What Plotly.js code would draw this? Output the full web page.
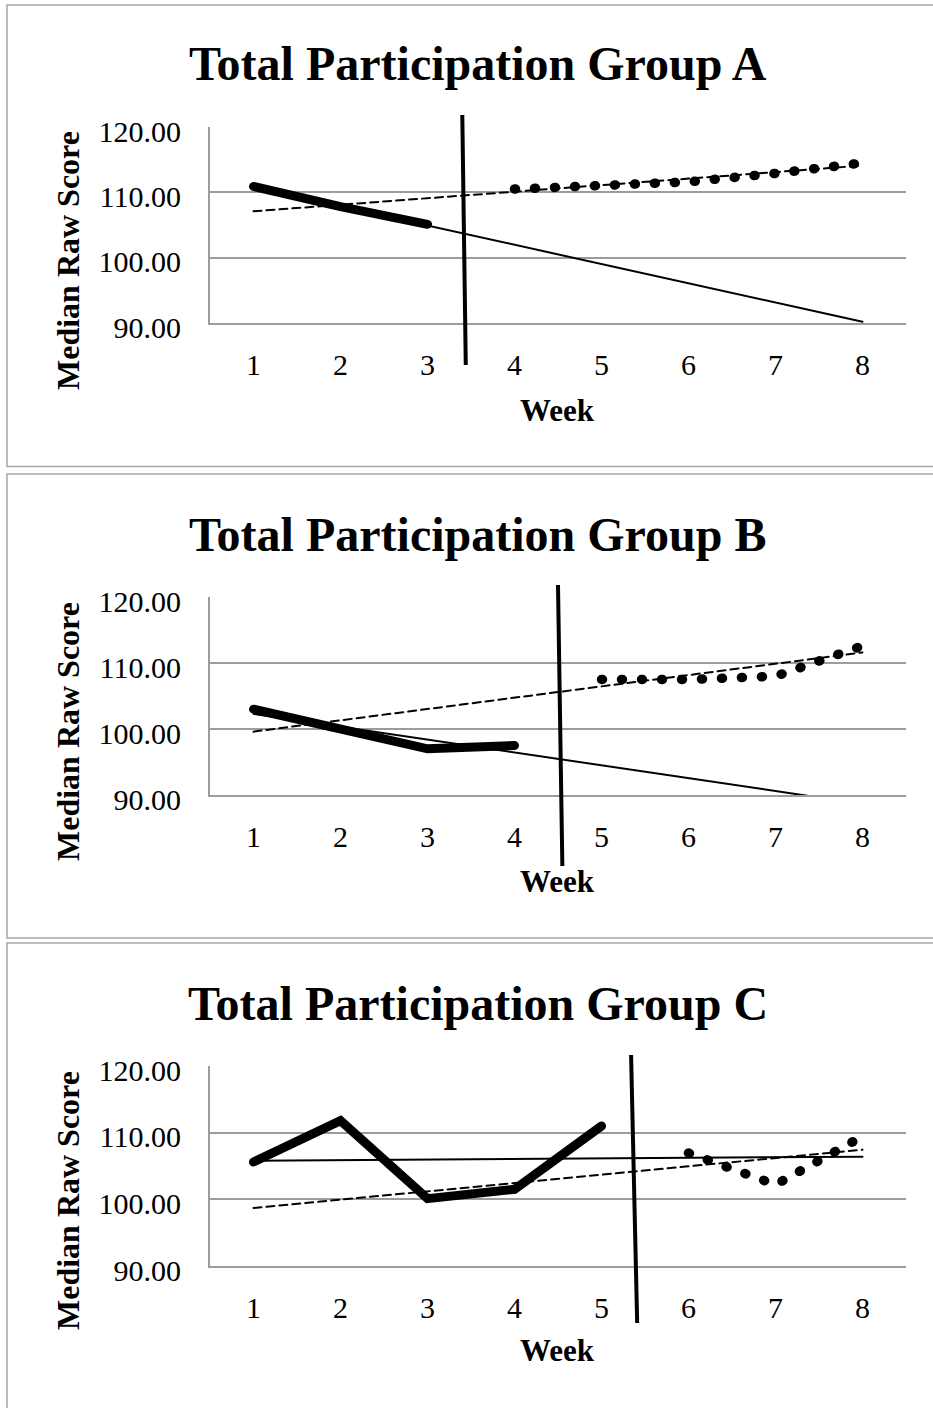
<!DOCTYPE html>
<html>
<head>
<meta charset="utf-8">
<script src="https://cdn.plot.ly/plotly-3.0.1.min.js"></script>
<style>
  html, body { margin: 0; padding: 0; background: #ffffff; }
  #chart { width: 933px; height: 1408px; }
</style>
</head>
<body>
<div id="chart"></div>
<script>
// ---------------- DATA ----------------
const weekTicks = [1, 2, 3, 4, 5, 6, 7, 8];
const scoreTicks = [90, 100, 110, 120];
const trendWeeks = [1, 8];

// Group A
const titleA = "Total Participation Group A";
const weeksA1 = [1, 2, 3];
const scoreA1 = [110.9, 107.8, 105.1];
const weeksA2 = [4, 5, 6, 7, 8];
const scoreA2 = [110.5, 111.0, 111.6, 112.9, 114.5];
const trendA1 = [110.8, 90.2];
const trendA2 = [107.1, 114.1];
const phaseA = [3.40, 3.44];

// Group B
const titleB = "Total Participation Group B";
const weeksB1 = [1, 2, 3, 4];
const scoreB1 = [103.0, 100.0, 97.0, 97.5];
const weeksB2 = [5, 6, 7, 8];
const scoreB2 = [107.5, 107.5, 108.0, 112.6];
const trendB1 = [102.3, 88.65];
const trendB2 = [99.6, 111.6];
const phaseB = [4.50, 4.55];

// Group C
const titleC = "Total Participation Group C";
const weeksC1 = [1, 2, 3, 4, 5];
const scoreC1 = [105.6, 111.8, 100.1, 101.5, 111.0];
const weeksC2 = [6, 7, 8];
const scoreC2 = [106.95, 102.2, 109.45];
const trendC1 = [105.8, 106.4];
const trendC2 = [98.7, 107.45];
const phaseC = [5.34, 5.41];

const xTitle = "Week";
const yTitle = "Median Raw Score";

// ---------------- LAYOUT HELPERS ----------------
const W = 933, H = 1408;
const FONT = "Liberation Serif, Times New Roman, serif";
const GRID = "#9c9c9c";
const px = x => x / W;
const py = y => 1 - y / H;

const panels = [
  { title: titleA, w1: weeksA1, s1: scoreA1, w2: weeksA2, s2: scoreA2, t1: trendA1, t2: trendA2, phase: phaseA,
    top: 127, bottom: 323, off: 0, box: [5, 466.5], vtop: 115, vbot: 365 },
  { title: titleB, w1: weeksB1, s1: scoreB1, w2: weeksB2, s2: scoreB2, t1: trendB1, t2: trendB2, phase: phaseB,
    top: 597, bottom: 795, off: 471, box: [474, 938], vtop: 585, vbot: 866 },
  { title: titleC, w1: weeksC1, s1: scoreC1, w2: weeksC2, s2: scoreC2, t1: trendC1, t2: trendC2, phase: phaseC,
    top: 1066, bottom: 1266, off: 940, box: [943, 1420], vtop: 1055, vbot: 1323 }
];

const traces = [];
const layout = {
  width: W, height: H, autosize: false,
  margin: { l: 0, r: 0, t: 0, b: 0, pad: 0 },
  paper_bgcolor: "#ffffff", plot_bgcolor: "#ffffff",
  showlegend: false,
  shapes: [], annotations: []
};

panels.forEach((p, i) => {
  const n = i === 0 ? "" : String(i + 1);
  const xa = "x" + n, ya = "y" + n;

  // trend lines first (underneath)
  traces.push({ type: "scatter", mode: "lines", x: trendWeeks, y: p.t1, xaxis: xa, yaxis: ya,
    line: { color: "#000", width: 2 }, hoverinfo: "skip" });
  traces.push({ type: "scatter", mode: "lines", x: trendWeeks, y: p.t2, xaxis: xa, yaxis: ya,
    line: { color: "#000", width: 2, dash: "8px,5px" }, hoverinfo: "skip" });
  // baseline phase (thick)
  traces.push({ type: "scatter", mode: "lines", x: p.w1, y: p.s1, xaxis: xa, yaxis: ya,
    line: { color: "#000", width: 9 } });
  // intervention phase (round dots)
  traces.push({ type: "scatter", mode: "lines", x: p.w2, y: p.s2, xaxis: xa, yaxis: ya,
    line: { color: "#000", width: 9.5, dash: "1px,19px" } });

  layout["xaxis" + n] = {
    anchor: ya, domain: [px(210), px(906)], range: [0.5, 8.5],
    tickmode: "array", tickvals: weekTicks, ticktext: weekTicks.map(String),
    showgrid: false, zeroline: false, showline: true, linecolor: GRID, linewidth: 2,
    ticks: "outside", ticklen: 14, tickcolor: "rgba(0,0,0,0)",
    tickfont: { family: FONT, size: 30, color: "#000" }, fixedrange: true
  };
  layout["yaxis" + n] = {
    anchor: xa, domain: [py(p.bottom), py(p.top)], range: [90, 120],
    tickmode: "array", tickvals: scoreTicks, tickformat: ".2f",
    showgrid: true, gridcolor: GRID, gridwidth: 2, zeroline: false,
    showline: true, linecolor: GRID, linewidth: 2,
    ticks: "outside", ticklen: 21, tickcolor: "rgba(0,0,0,0)", ticklabelshift: 4,
    tickfont: { family: FONT, size: 30, color: "#000" }, fixedrange: true
  };

  // panel frame
  layout.shapes.push({ type: "rect", xref: "paper", yref: "paper",
    x0: px(7), x1: px(945), y0: py(p.box[1]), y1: py(p.box[0]),
    line: { color: "#a6a6a6", width: 1.5 }, fillcolor: "rgba(0,0,0,0)", layer: "below" });
  // phase change line
  layout.shapes.push({ type: "line", xref: xa, yref: "paper",
    x0: p.phase[0], x1: p.phase[1], y0: py(p.vtop), y1: py(p.vbot),
    line: { color: "#000", width: 4 }, layer: "above" });

  // chart title
  layout.annotations.push({ xref: "paper", yref: "paper", x: px(477.5), y: py(63.5 + p.off),
    xanchor: "center", yanchor: "middle", showarrow: false, text: "<b>" + p.title + "</b>",
    font: { family: FONT, size: 48, color: "#000" } });
  // y axis title
  layout.annotations.push({ xref: "paper", yref: "paper", x: px(68), y: py(261 + p.off),
    xanchor: "center", yanchor: "middle", showarrow: false, textangle: -90,
    text: "<b>" + yTitle + "</b>", font: { family: FONT, size: 32, color: "#000" } });
  // x axis title
  layout.annotations.push({ xref: "paper", yref: "paper", x: px(557.5), y: py(410 + p.off),
    xanchor: "center", yanchor: "middle", showarrow: false,
    text: "<b>" + xTitle + "</b>", font: { family: FONT, size: 31, color: "#000" } });
});

Plotly.newPlot("chart", traces, layout, { staticPlot: true, displayModeBar: false }).then(() => {
  document.querySelectorAll("#chart path.js-line").forEach(el => {
    el.style.strokeLinecap = "round";
  });
});
</script>
</body>
</html>
